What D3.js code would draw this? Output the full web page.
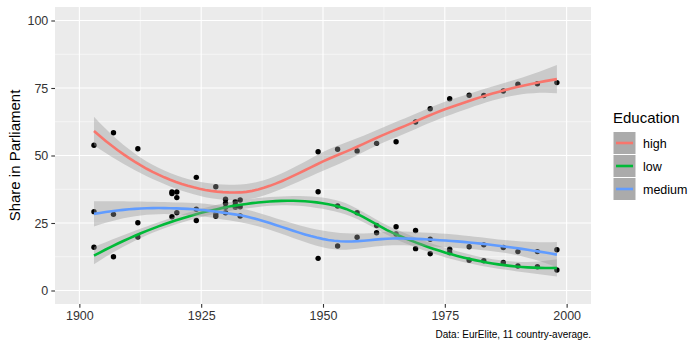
<!DOCTYPE html>
<html>
<head>
<meta charset="utf-8">
<script src="https://cdn.jsdelivr.net/npm/d3@7"></script>
<style>
  body { margin: 0; background: #fff; }
  text { font-family: "Liberation Sans", Arial, sans-serif; }
</style>
</head>
<body>
<svg width="700" height="350"></svg>
<script>
// education groups, in legend order
var groups = ["high", "low", "medium"];
var colors = ["#F8766D", "#00BA38", "#619CFF"];

// share in parliament (%), 11 country-average
var highYears = [1903, 1907, 1912, 1919, 1920, 1924, 1928, 1930, 1932, 1933, 1949, 1953, 1957, 1961, 1965, 1969, 1972, 1976, 1980, 1983, 1987, 1990, 1994, 1998];
var highShare = [53.8, 58.4, 52.5, 36.5, 36.5, 41.9, 38.4, 33.8, 32.9, 33.5, 51.4, 52.3, 51.7, 54.5, 55.1, 62.4, 67.3, 71.0, 72.3, 72.2, 73.9, 76.4, 76.6, 77.0];

var lowYears = [1903, 1907, 1912, 1919, 1920, 1924, 1928, 1930, 1930, 1932, 1933, 1949, 1953, 1957, 1961, 1965, 1969, 1972, 1976, 1980, 1983, 1987, 1990, 1994, 1998];
var lowShare = [16.0, 12.5, 19.8, 27.3, 28.8, 25.9, 28.3, 32.3, 28.8, 31.7, 31.0, 36.6, 31.3, 28.8, 24.1, 23.6, 15.5, 13.6, 14.0, 11.2, 11.0, 10.4, 9.1, 8.8, 7.6];

var mediumYears = [1903, 1907, 1912, 1919, 1920, 1924, 1928, 1930, 1932, 1933, 1949, 1953, 1957, 1961, 1965, 1969, 1972, 1976, 1980, 1983, 1987, 1990, 1994, 1998];
var mediumShare = [29.2, 28.2, 25.1, 35.9, 34.4, 30.1, 27.5, 30.8, 30.8, 27.6, 11.9, 16.5, 19.7, 21.4, 20.9, 22.2, 19.0, 15.3, 16.2, 16.9, 15.9, 14.4, 14.4, 15.1];

var xTicks = [1900, 1925, 1950, 1975, 2000];
var yTicks = [0, 25, 50, 75, 100];
var xMinor = [1912.5, 1937.5, 1962.5, 1987.5];
var yMinor = [12.5, 37.5, 62.5, 87.5];

var series = [
  {name: "high", years: highYears, share: highShare},
  {name: "low", years: lowYears, share: lowShare},
  {name: "medium", years: mediumYears, share: mediumShare}
];

var svg = d3.select("svg"),
    margin = {top: 7, right: 109, bottom: 46, left: 55},
    width = 700 - margin.left - margin.right,
    height = 350 - margin.top - margin.bottom,
    g = svg.append("g").attr("transform", "translate(" + margin.left + "," + margin.top + ")");

var x = d3.scaleLinear().domain([1895, 2005]).range([0, width]),
    y = d3.scaleLinear().domain([-5, 105]).range([height, 0]),
    color = d3.scaleOrdinal().domain(groups).range(colors);

// ---- loess as in R (degree 2, span 0.75, kd-tree + hermite interpolation) ----
function inv3(S) {
  var a = S[0][0], b = S[0][1], c = S[0][2],
      d = S[1][0], e = S[1][1], f = S[1][2],
      gg = S[2][0], h = S[2][1], k = S[2][2];
  var A = e * k - f * h, B = -(d * k - f * gg), C = d * h - e * gg;
  var det = a * A + b * B + c * C;
  return [
    [A / det, -(b * k - c * h) / det, (b * f - c * e) / det],
    [B / det, (a * k - c * gg) / det, -(a * f - c * d) / det],
    [C / det, -(a * h - b * gg) / det, (a * e - b * d) / det]
  ];
}

// operator rows for local value and slope at x0
function localRows(xs, x0, span) {
  var n = xs.length, q = Math.floor(n * span + 1e-5);
  var d = xs.map(function(xi) { return Math.abs(xi - x0); });
  var h = d.slice().sort(function(a, b) { return a - b; })[q - 1];
  var w = d.map(function(di) { var u = di / h; return u < 1 ? Math.pow(1 - u * u * u, 3) : 0; });
  var S = [[0, 0, 0], [0, 0, 0], [0, 0, 0]];
  xs.forEach(function(xi, i) {
    var dx = xi - x0, b = [1, dx, dx * dx];
    for (var j = 0; j < 3; j++) for (var k = 0; k < 3; k++) S[j][k] += w[i] * b[j] * b[k];
  });
  var M = inv3(S);
  var val = [], slope = [];
  xs.forEach(function(xi, i) {
    var dx = xi - x0;
    val.push(w[i] * (M[0][0] + M[0][1] * dx + M[0][2] * dx * dx));
    slope.push(w[i] * (M[1][0] + M[1][1] * dx + M[1][2] * dx * dx));
  });
  return {val: val, slope: slope};
}

function kdVertices(xs, span) {
  var n = xs.length, fc = Math.floor(n * span * 0.2);
  var s = xs.slice().sort(function(a, b) { return a - b; });
  var mu = 0.005 * (s[n - 1] - s[0]);
  var verts = [s[0] - mu, s[n - 1] + mu];
  function split(l, u, vlo, vhi) {
    if (u - l + 1 <= fc) return;
    var m = Math.floor((l + u + 2) / 2) - 1, off = 0;
    while (m + off < u && m + off >= l) {
      if (s[m + off] === s[m + off + 1]) { off = -off; if (off >= 0) off++; }
      else { m = m + off; break; }
    }
    var v = s[m];
    if (v === vlo || v === vhi) return;
    verts.push(v);
    split(l, m, vlo, v);
    split(m + 1, u, v, vhi);
  }
  split(0, n - 1, verts[0], verts[1]);
  return verts.sort(function(a, b) { return a - b; });
}

function loessOperator(xs, span) {
  var verts = kdVertices(xs, span);
  var rows = verts.map(function(v) { return localRows(xs, v, span); });
  return function(z) {
    var i = Math.max(0, Math.min(verts.length - 2, d3.bisectRight(verts, z) - 1));
    var h = verts[i + 1] - verts[i], t = (z - verts[i]) / h;
    var p0 = (1 - t) * (1 - t) * (1 + 2 * t), p1 = t * t * (3 - 2 * t),
        s0 = t * (1 - t) * (1 - t) * h, s1 = -t * t * (1 - t) * h;
    var r0 = rows[i], r1 = rows[i + 1];
    return r0.val.map(function(v, k) {
      return p0 * v + p1 * r1.val[k] + s0 * r0.slope[k] + s1 * r1.slope[k];
    });
  };
}

function qt975(df) {
  var z = 1.959964, z3 = z * z * z, z5 = z3 * z * z, z7 = z5 * z * z;
  return z + (z3 + z) / (4 * df) + (5 * z5 + 16 * z3 + 3 * z) / (96 * df * df) +
    (3 * z7 + 19 * z5 + 17 * z3 - 15 * z) / (384 * df * df * df);
}

function smooth(xs, ys) {
  var n = xs.length, span = 0.75, op = loessOperator(xs, span);
  var L = xs.map(function(x0) { return op(x0); });
  var A = L.map(function(row, i) { return row.map(function(v, j) { return (i === j ? 1 : 0) - v; }); });
  var one = 0, two = 0, rss = 0;
  A.forEach(function(row) { row.forEach(function(v) { one += v * v; }); });
  for (var i = 0; i < n; i++) {
    for (var j = 0; j < n; j++) {
      var s = 0;
      for (var k = 0; k < n; k++) s += A[k][i] * A[k][j];
      two += s * s;
    }
    var r = 0;
    for (var k2 = 0; k2 < n; k2++) r += A[i][k2] * ys[k2];
    rss += r * r;
  }
  var sigma = Math.sqrt(rss / one), df = one * one / two, t = qt975(df);
  var x0 = d3.min(xs), x1 = d3.max(xs);
  return d3.range(80).map(function(i) {
    var xv = x0 + (x1 - x0) * i / 79;
    var l = op(xv);
    var fit = d3.sum(l, function(v, k) { return v * ys[k]; });
    var se = sigma * Math.sqrt(d3.sum(l, function(v) { return v * v; }));
    return {x: xv, y: fit, lo: fit - t * se, hi: fit + t * se};
  });
}

// panel
g.append("rect").attr("width", width).attr("height", height).attr("fill", "#EBEBEB");

g.selectAll(".xminor").data(xMinor).enter().append("line")
  .attr("x1", function(d) { return x(d); }).attr("x2", function(d) { return x(d); })
  .attr("y1", 0).attr("y2", height).attr("stroke", "#fff").attr("stroke-width", 0.55);
g.selectAll(".yminor").data(yMinor).enter().append("line")
  .attr("y1", function(d) { return y(d); }).attr("y2", function(d) { return y(d); })
  .attr("x1", 0).attr("x2", width).attr("stroke", "#fff").attr("stroke-width", 0.55);
g.selectAll(".xmajor").data(xTicks).enter().append("line")
  .attr("x1", function(d) { return x(d); }).attr("x2", function(d) { return x(d); })
  .attr("y1", 0).attr("y2", height).attr("stroke", "#fff").attr("stroke-width", 1.1);
g.selectAll(".ymajor").data(yTicks).enter().append("line")
  .attr("y1", function(d) { return y(d); }).attr("y2", function(d) { return y(d); })
  .attr("x1", 0).attr("x2", width).attr("stroke", "#fff").attr("stroke-width", 1.1);

// points
series.forEach(function(s) {
  g.append("g").selectAll("circle")
    .data(s.years.map(function(yr, i) { return {x: yr, y: s.share[i]}; }))
    .enter().append("circle")
    .attr("cx", function(d) { return x(d.x); })
    .attr("cy", function(d) { return y(d.y); })
    .attr("r", 2.7)
    .attr("fill", "#000");
});

// smooths: ribbon then line, per group
var area = d3.area().x(function(d) { return x(d.x); }).y0(function(d) { return y(d.lo); }).y1(function(d) { return y(d.hi); });
var line = d3.line().x(function(d) { return x(d.x); }).y(function(d) { return y(d.y); });

series.forEach(function(s) {
  var fit = smooth(s.years, s.share);
  g.append("path").datum(fit).attr("d", area).attr("fill", "#999999").attr("fill-opacity", 0.4);
  g.append("path").datum(fit).attr("d", line).attr("fill", "none")
    .attr("stroke", color(s.name)).attr("stroke-width", 2.6);
});

// axes
var xAxis = g.append("g").attr("transform", "translate(0," + height + ")")
  .call(d3.axisBottom(x).tickValues(xTicks).tickFormat(d3.format("d")).tickSize(3.7).tickPadding(3));
var yAxis = g.append("g")
  .call(d3.axisLeft(y).tickValues(yTicks).tickSize(3.7).tickPadding(3));
[xAxis, yAxis].forEach(function(ax) {
  ax.select(".domain").remove();
  ax.selectAll("line").attr("stroke", "#333").attr("stroke-width", 1.1);
  ax.selectAll("text").attr("fill", "#333").style("font-size", "12.5px")
    .style("font-family", "'Liberation Sans', Arial, sans-serif");
});

svg.append("text")
  .attr("transform", "translate(20," + (margin.top + height / 2) + ") rotate(-90)")
  .attr("text-anchor", "middle").style("font-size", "15px").attr("fill", "#000")
  .text("Share in Parliament");

svg.append("text")
  .attr("x", margin.left + width).attr("y", 338)
  .attr("text-anchor", "end").style("font-size", "10px").attr("fill", "#000")
  .text("Data: EurElite, 11 country-average.");

// legend
var legend = svg.append("g").attr("transform", "translate(613,131.5)");
legend.append("text").attr("x", 0).attr("y", -9).style("font-size", "15px").attr("fill", "#000").text("Education");
var key = legend.selectAll(".key").data(groups).enter().append("g")
  .attr("transform", function(d, i) { return "translate(0," + (i * 23) + ")"; });
key.append("rect").attr("width", 23).attr("height", 23).attr("fill", "#ABABAB")
  .attr("stroke", "#fff").attr("stroke-width", 1);
key.append("line").attr("x1", 3).attr("x2", 20).attr("y1", 11.5).attr("y2", 11.5)
  .attr("stroke", function(d) { return color(d); }).attr("stroke-width", 2.6);
key.append("text").attr("x", 30).attr("y", 16).style("font-size", "12.5px").attr("fill", "#000")
  .text(function(d) { return d; });
</script>
</body>
</html>
